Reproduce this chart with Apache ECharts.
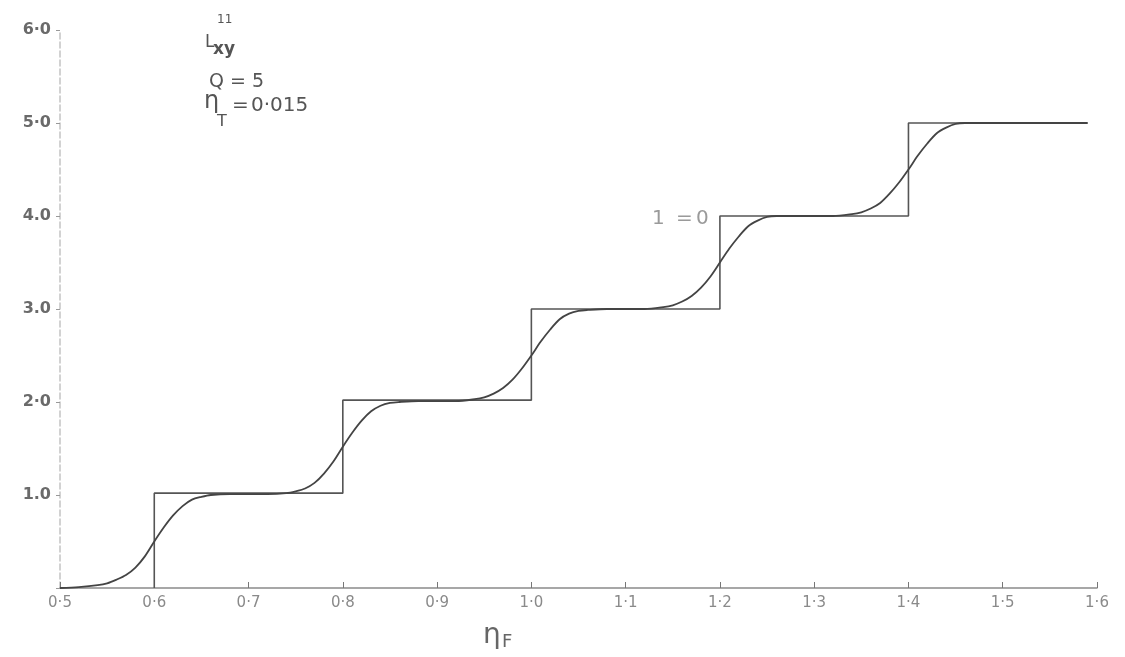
<!DOCTYPE html>
<html>
<head>
<meta charset="utf-8">
<script src="https://cdn.jsdelivr.net/npm/echarts@6/dist/echarts.min.js"></script>
<style>
  html, body { margin: 0; padding: 0; background: #fff; }
  #chart { width: 1125px; height: 657px; }
</style>
</head>
<body>
<div id="chart"></div>
<script>
// tick labels as written on the plot
var yTickLabels = ['', '1.0', '2·0', '3.0', '4.0', '5·0', '6·0'];

// T = 0 staircase (corner points)
var stepX = [0.6, 0.6, 0.8, 0.8, 1.0, 1.0, 1.2, 1.2, 1.4, 1.4, 1.59];
var stepY = [0, 1.02, 1.02, 2.02, 2.02, 3.0, 3.0, 4.0, 4.0, 5.0, 5.0];

// finite temperature curve
var curveX = [0.5, 0.52, 0.54, 0.55, 0.56, 0.57, 0.58, 0.59, 0.6, 0.61, 0.62, 0.63, 0.64, 0.65, 0.66, 0.68,
  0.72, 0.74, 0.75, 0.76, 0.77, 0.78, 0.79, 0.8, 0.81, 0.82, 0.83, 0.84, 0.85, 0.86, 0.88,
  0.92, 0.94, 0.95, 0.96, 0.97, 0.98, 0.99, 1.0, 1.01, 1.02, 1.03, 1.04, 1.05, 1.06, 1.08,
  1.12, 1.14, 1.15, 1.16, 1.17, 1.18, 1.19, 1.2, 1.21, 1.22, 1.23, 1.24, 1.25, 1.26, 1.28,
  1.32, 1.34, 1.35, 1.36, 1.37, 1.38, 1.39, 1.4, 1.41, 1.42, 1.43, 1.44, 1.45, 1.46, 1.5, 1.59];
var curveY = [0, 0.01, 0.03, 0.05, 0.09, 0.14, 0.22, 0.34, 0.5, 0.65, 0.78, 0.88, 0.95, 0.98, 1.0, 1.01,
  1.01, 1.02, 1.04, 1.07, 1.13, 1.23, 1.36, 1.52, 1.67, 1.8, 1.9, 1.96, 1.99, 2.0, 2.01,
  2.01, 2.03, 2.05, 2.09, 2.15, 2.24, 2.36, 2.5, 2.65, 2.78, 2.89, 2.95, 2.98, 2.99, 3.0,
  3.0, 3.02, 3.04, 3.08, 3.14, 3.23, 3.35, 3.5, 3.65, 3.78, 3.89, 3.95, 3.99, 4.0, 4.0,
  4.0, 4.02, 4.04, 4.08, 4.14, 4.24, 4.36, 4.5, 4.65, 4.78, 4.89, 4.95, 4.99, 5.0, 5.0, 5.0];

function pairs(xs, ys) {
  var out = [];
  for (var i = 0; i < xs.length; i++) out.push([xs[i], ys[i]]);
  return out;
}

var ink = '#555';

var chart = echarts.init(document.getElementById('chart'));
chart.setOption({
  backgroundColor: '#fff',
  animation: false,
  grid: { left: 60, right: 28, top: 30, bottom: 69 },
  xAxis: {
    type: 'value',
    min: 0.5,
    max: 1.6,
    interval: 0.1,
    axisLine: { lineStyle: { color: '#8a8a8a', width: 1.5 } },
    axisTick: { inside: true, length: 6, lineStyle: { color: '#777' } },
    splitLine: { show: false },
    axisLabel: {
      margin: 8,
      fontFamily: 'DejaVu Sans',
      fontSize: 15,
      color: '#8a8a8a',
      formatter: function (v) { return v.toFixed(1).replace('.', '·'); }
    }
  },
  yAxis: {
    type: 'value',
    min: 0,
    max: 6,
    interval: 1,
    axisLine: { show: true, lineStyle: { color: '#c4c4c4', type: 'dashed', width: 1.5 } },
    axisTick: { show: true, length: 4, lineStyle: { color: '#999' } },
    splitLine: { show: false },
    axisLabel: {
      margin: 9,
      fontFamily: 'DejaVu Sans',
      fontSize: 16,
      fontWeight: 'bold',
      color: '#6a6a6a',
      formatter: function (v) { return yTickLabels[Math.round(v)]; }
    }
  },
  series: [
    {
      name: 'T = 0',
      type: 'line',
      data: pairs(stepX, stepY),
      symbol: 'none',
      lineStyle: { color: '#555', width: 1.6 }
    },
    {
      name: 'curve',
      type: 'line',
      data: pairs(curveX, curveY),
      symbol: 'none',
      smooth: 0.3,
      lineStyle: { color: '#444', width: 1.8 }
    }
  ],
  graphic: [
    // L_xy with superscript 11
    { type: 'text', left: 205, top: 34, style: { text: 'L', font: '17px DejaVu Sans', fill: ink } },
    { type: 'text', left: 217, top: 14, style: { text: '11', font: '12px DejaVu Sans', fill: ink } },
    { type: 'text', left: 213, top: 41, style: { text: 'xy', font: 'bold 17px DejaVu Sans', fill: ink } },
    // Q = 5
    { type: 'text', left: 209, top: 73, style: { text: 'Q', font: '19px DejaVu Sans', fill: ink } },
    { type: 'text', left: 230, top: 73, style: { text: '=', font: '19px DejaVu Sans', fill: ink } },
    { type: 'text', left: 252, top: 73, style: { text: '5', font: '19px DejaVu Sans', fill: ink } },
    // eta_T = 0.015
    { type: 'text', left: 204, top: 90, style: { text: 'η', font: '24px DejaVu Sans', fill: ink } },
    { type: 'text', left: 217, top: 114, style: { text: 'T', font: '16px DejaVu Sans', fill: ink } },
    { type: 'text', left: 232, top: 96, style: { text: '=', font: '20px DejaVu Sans', fill: ink } },
    { type: 'text', left: 251, top: 96, style: { text: '0·015', font: '20px DejaVu Sans', fill: ink } },
    // curve label
    { type: 'text', left: 652, top: 209, style: { text: '1', font: '20px DejaVu Sans', fill: '#9a9a9a' } },
    { type: 'text', left: 676, top: 209, style: { text: '=', font: '20px DejaVu Sans', fill: '#9a9a9a' } },
    { type: 'text', left: 696, top: 209, style: { text: '0', font: '20px DejaVu Sans', fill: '#9a9a9a' } },
    // x axis name
    { type: 'text', left: 483, top: 622, style: { text: 'η', font: '28px DejaVu Sans', fill: '#666' } },
    { type: 'text', left: 502, top: 633, style: { text: 'F', font: '18px DejaVu Sans', fill: '#666' } }
  ]
});
</script>
</body>
</html>
